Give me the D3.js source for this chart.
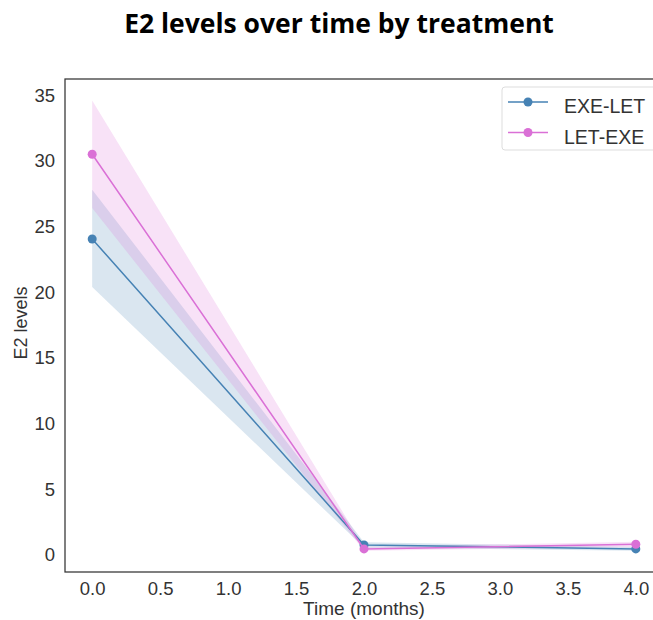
<!DOCTYPE html>
<html><head><meta charset="utf-8">
<script src="https://cdn.jsdelivr.net/npm/d3@7"></script>
<style>body{margin:0;background:#fff}</style>
</head><body>
<svg id="c" width="653" height="620"></svg>
<script>
const times = [0, 2, 4];
const seriesNames = ["EXE-LET", "LET-EXE"];
const seriesColors = ["#4682b4", "#da70d6"];
const exeLetMean = [24.05, 0.75, 0.45];
const exeLetLow = [20.4, 0.55, 0.3];
const exeLetHigh = [27.8, 0.95, 0.6];
const letExeMean = [30.5, 0.45, 0.8];
const letExeLow = [26.4, 0.3, 0.6];
const letExeHigh = [34.6, 0.6, 1.0];
const xTicks = [0, 0.5, 1, 1.5, 2, 2.5, 3, 3.5, 4];
const yTicks = [0, 5, 10, 15, 20, 25, 30, 35];

const series = [
  {name: seriesNames[0], color: seriesColors[0], mean: exeLetMean, lo: exeLetLow, hi: exeLetHigh},
  {name: seriesNames[1], color: seriesColors[1], mean: letExeMean, lo: letExeLow, hi: letExeHigh}
];

const svg = d3.select("#c");
const L = 65, R = 663, T = 79, B = 572;
const x = d3.scaleLinear().domain([-0.2, 4.2]).range([L, R]);
const y = d3.scaleLinear().domain([-1.31, 36.23]).range([B, T]);

svg.append("text").attr("x", 339).attr("y", 33).attr("text-anchor", "middle")
  .style("font-family", "'Open Sans', sans-serif").style("font-weight", "bold")
  .style("font-size", "26.5px").text("E2 levels over time by treatment");

const g = svg.append("g");
series.forEach(s => {
  const area = d3.area().x((d,i) => x(times[i])).y0((d,i) => y(s.lo[i])).y1((d,i) => y(s.hi[i]));
  g.append("path").attr("d", area(s.mean)).attr("fill", s.color).attr("fill-opacity", 0.2);
});
series.forEach(s => {
  const line = d3.line().x((d,i) => x(times[i])).y(d => y(d));
  g.append("path").attr("d", line(s.mean)).attr("fill", "none").attr("stroke", s.color).attr("stroke-width", 1.5);
  g.selectAll(null).data(s.mean).enter().append("circle")
    .attr("cx", (d,i) => x(times[i])).attr("cy", d => y(d)).attr("r", 4.5).attr("fill", s.color);
});

// frame
svg.append("rect").attr("x", L).attr("y", T).attr("width", R - L).attr("height", B - T)
  .attr("fill", "none").attr("stroke", "#333").attr("stroke-width", 1.25);

const font = "'Liberation Sans', Arial, sans-serif";
const xa = svg.append("g").attr("transform", `translate(0,${B})`)
  .call(d3.axisBottom(x).tickValues(xTicks).tickFormat(d3.format(".1f")).tickSize(0).tickPadding(10));
xa.select(".domain").remove();
xa.selectAll("text").style("font-family", font).style("font-size", "18.5px").attr("fill", "#333");

const ya = svg.append("g").attr("transform", `translate(${L},0)`)
  .call(d3.axisLeft(y).tickValues(yTicks).tickFormat(d3.format("d")).tickSize(0).tickPadding(10));
ya.select(".domain").remove();
ya.selectAll("text").style("font-family", font).style("font-size", "18.5px").attr("fill", "#333");

svg.append("text").attr("x", (L + R) / 2).attr("y", 615).attr("text-anchor", "middle")
  .style("font-family", font).style("font-size", "19px").attr("fill", "#333").text("Time (months)");
svg.append("text").attr("transform", "translate(27,323) rotate(-90)").attr("text-anchor", "middle")
  .style("font-family", font).style("font-size", "18px").attr("fill", "#333").text("E2 levels");

// legend
const lg = svg.append("g");
lg.append("rect").attr("x", 502).attr("y", 87).attr("width", 160).attr("height", 63).attr("rx", 3)
  .attr("fill", "#fff").attr("fill-opacity", 0.8).attr("stroke", "#ddd");
series.forEach((s, i) => {
  const yy = 102 + i * 30.5;
  lg.append("line").attr("x1", 508).attr("x2", 548).attr("y1", yy).attr("y2", yy).attr("stroke", s.color).attr("stroke-width", 1.5);
  lg.append("circle").attr("cx", 528).attr("cy", yy).attr("r", 4.5).attr("fill", s.color);
  lg.append("text").attr("x", 564).attr("y", yy + 11).style("font-family", font).style("font-size", "19.5px")
    .attr("fill", "#333").text(s.name);
});
</script>
</body></html>
